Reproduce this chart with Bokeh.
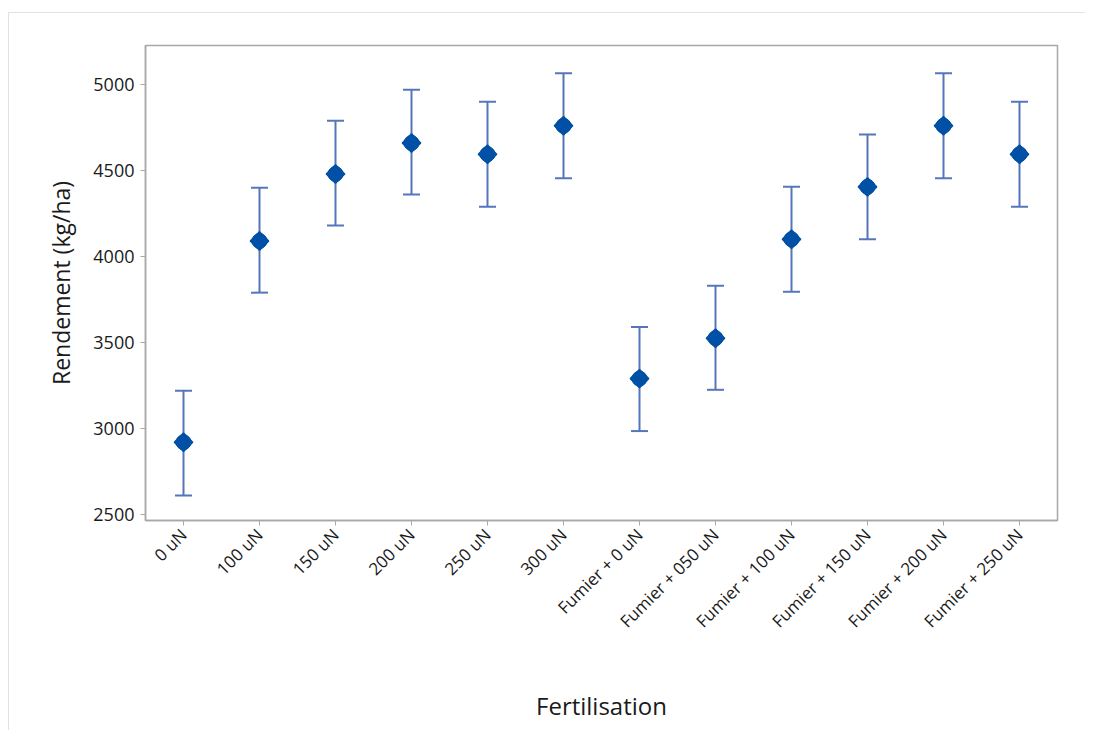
import math
from bokeh.plotting import figure
from bokeh.models import ColumnDataSource, Range1d, FixedTicker
from bokeh.embed import file_html
from bokeh.resources import INLINE

categories = ["0 uN", "100 uN", "150 uN", "200 uN", "250 uN", "300 uN",
              "Fumier + 0 uN", "Fumier + 050 uN", "Fumier + 100 uN",
              "Fumier + 150 uN", "Fumier + 200 uN", "Fumier + 250 uN"]
means = [2920, 4090, 4480, 4660, 4595, 4760, 3290, 3525, 4100, 4405, 4760, 4595]
lower = [2610, 3790, 4180, 4360, 4290, 4455, 2985, 3225, 3795, 4100, 4455, 4290]
upper = [3220, 4400, 4790, 4970, 4900, 5065, 3590, 3830, 4405, 4710, 5065, 4900]
y_ticks = [2500, 3000, 3500, 4000, 4500, 5000]

src = ColumnDataSource(dict(cat=categories, mean=means, lo=lower, hi=upper))

p = figure(x_range=categories, y_range=Range1d(2465, 5227),
           width=1077, height=718, output_backend="svg", toolbar_location=None,
           min_border_left=136, min_border_top=32, min_border_right=29, min_border_bottom=211)

p.margin = (12, 0, 0, 8)
p.styles = {"border-top": "1px solid #e2e2e2", "border-left": "1px solid #e2e2e2"}

bar_col = "#5676bb"
mk_col = "#0050a5"
p.segment(x0="cat", y0="lo", x1="cat", y1="hi", source=src, line_color=bar_col, line_width=2)
p.scatter(x="cat", y="hi", source=src, marker="dash", size=17, line_color=bar_col, line_width=2)
p.scatter(x="cat", y="lo", source=src, marker="dash", size=17, line_color=bar_col, line_width=2)
p.scatter(x="cat", y="mean", source=src, marker="square", size=13, angle=math.pi / 4,
          fill_color=mk_col, line_color=mk_col, line_width=1.5)
p.scatter(x="cat", y="mean", source=src, marker="circle", size=15,
          fill_color=mk_col, line_color=mk_col)

p.xgrid.visible = False
p.ygrid.visible = False
p.outline_line_color = "#a8a8a8"
p.outline_line_width = 1.5
p.background_fill_color = "white"
p.border_fill_color = "white"

font = "Open Sans"
p.yaxis.ticker = FixedTicker(ticks=y_ticks)
for ax in (p.xaxis[0], p.yaxis[0]):
    ax.axis_line_color = "#a8a8a8"
    ax.axis_line_width = 1.5
    ax.major_tick_line_color = "#a8a8a8"
    ax.major_tick_out = 5
    ax.major_tick_in = 0
    ax.minor_tick_line_color = None
    ax.major_label_text_font = font
    ax.major_label_text_color = "#1a1a1a"
    ax.axis_label_text_font = font
    ax.axis_label_text_font_style = "normal"
    ax.axis_label_text_color = "#1a1a1a"

p.xaxis.axis_label_text_font_size = "24px"
p.yaxis.axis_label_text_font_size = "23px"
p.yaxis.major_label_text_font_size = "18px"
p.xaxis.major_label_text_font_size = "17px"
p.xaxis.major_label_orientation = math.pi / 4
p.xaxis.major_label_standoff = 6
p.yaxis.major_label_standoff = 6
p.yaxis.axis_label = "Rendement (kg/ha)"
p.yaxis.axis_label_standoff = 13
p.xaxis.axis_label = "Fertilisation"
p.xaxis.axis_label_standoff = 46

open("out.html", "w").write(file_html(p, INLINE))
